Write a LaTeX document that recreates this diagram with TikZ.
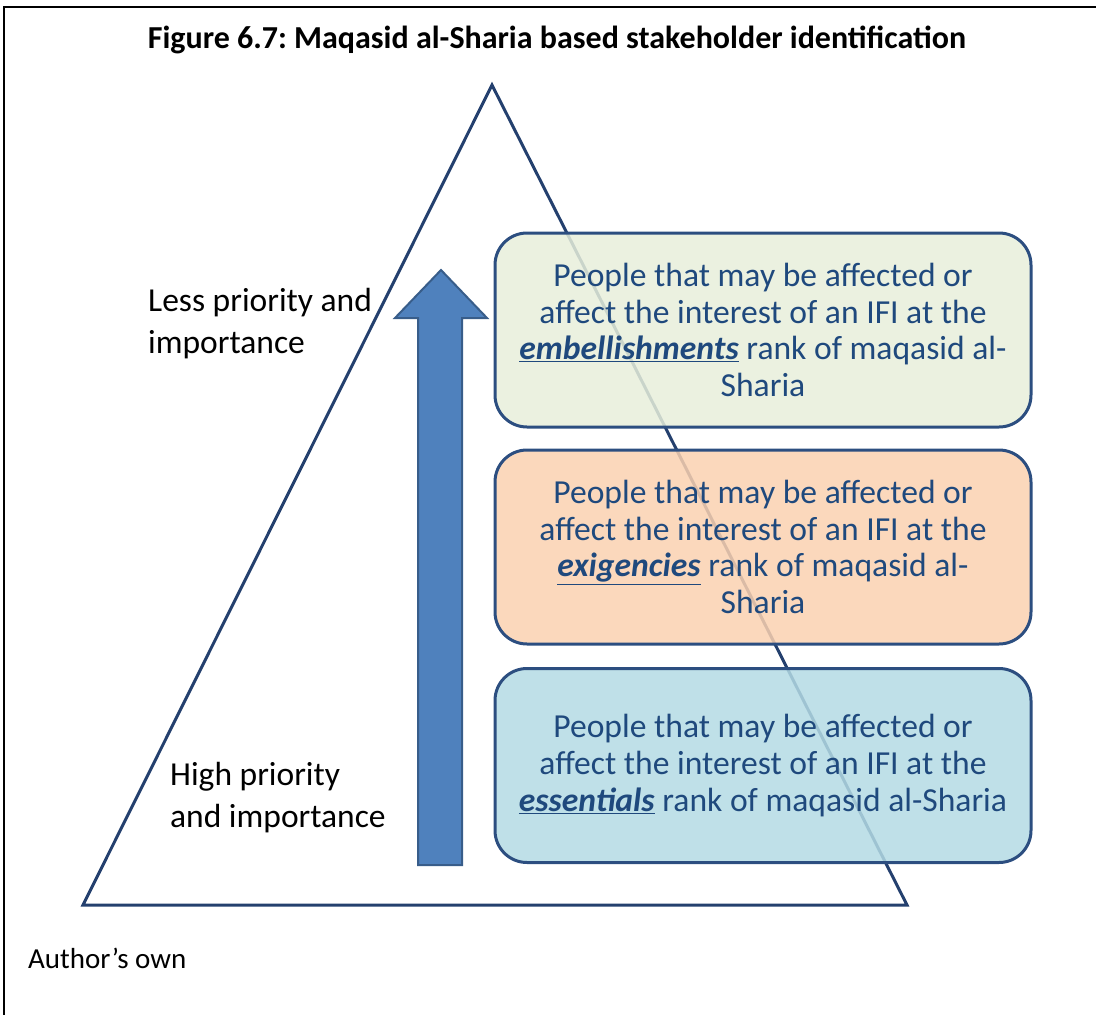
\documentclass[tikz,border=0pt]{standalone}
\usepackage{fontspec}
\setmainfont{Carlito}
\frenchspacing
\definecolor{tricol}{RGB}{36,64,110}
\definecolor{boxborder}{RGB}{44,78,128}
\definecolor{boxtext}{RGB}{31,73,125}
\definecolor{arrowfill}{RGB}{79,129,189}
\definecolor{arrowborder}{RGB}{56,93,138}
\definecolor{greenfill}{RGB}{231,238,219}
\definecolor{orangefill}{RGB}{250,209,176}
\definecolor{bluefill}{RGB}{180,219,228}
\begin{document}
\begin{tikzpicture}[x=1pt,y=-1pt,
  boxstyle/.style={draw=boxborder, line width=3pt, rounded corners=32pt,
    fill opacity=0.85, text opacity=1, text=boxtext, align=center,
    minimum width=536pt, minimum height=194pt, inner sep=0pt,
    font=\fontsize{33.6}{36.7}\selectfont},
  sidelabel/.style={anchor=west, align=left, inner sep=0pt,
    font=\fontsize{33.5}{42}\selectfont},
  trianglestyle/.style={draw=tricol, line width=3pt},
  arrowstyle/.style={fill=arrowfill, draw=arrowborder, line width=2pt},
  framestyle/.style={draw=black, line width=2pt}]
\useasboundingbox (0,0) rectangle (1096,1015);
% frame
\coordinate (frbl) at (4,1015);
\coordinate (frtl) at (4,7);
\coordinate (frtr) at (1096,7);
\draw[framestyle] (frbl) -- (frtl) -- (frtr);
% title
\node[inner sep=0pt, font=\fontsize{32}{36}\selectfont\bfseries] (title) at (557,40)
  {Figure 6.7: Maqasid al-Sharia based stakeholder identification};
% triangle
\coordinate (apex) at (492,85);
\coordinate (bl) at (83,905);
\coordinate (br) at (907,905);
\draw[trianglestyle] (apex) -- (br) -- (bl) -- cycle;
% arrow
\draw[arrowstyle] (418,865) -- (418,318) -- (395,318) -- (441,270) -- (487,318) -- (462,318) -- (462,865) -- cycle;
% boxes
\node[boxstyle, fill=greenfill] (emb) at (763,330)
  {People that may be affected or\\affect the interest of an IFI at the\\\underline{\textbf{\textit{embellishments}}} rank of maqasid al-\\Sharia};
\node[boxstyle, fill=orangefill] (exi) at (763,547)
  {People that may be affected or\\affect the interest of an IFI at the\\\underline{\textbf{\textit{exigencies}}} rank of maqasid al-\\Sharia};
\node[boxstyle, fill=bluefill] (ess) at (763,765.5)
  {People that may be affected or\\affect the interest of an IFI at the\\\underline{\textbf{\textit{essentials}}} rank of maqasid al-Sharia};
% side labels
\node[sidelabel] (less) at (148,324) {Less priority and\\importance};
\node[sidelabel] (high) at (170,798) {High priority\\and importance};
% source
\node[anchor=west, inner sep=0pt, font=\fontsize{29}{34}\selectfont] (src) at (28,958) {Author’s own};
\end{tikzpicture}
\end{document}
